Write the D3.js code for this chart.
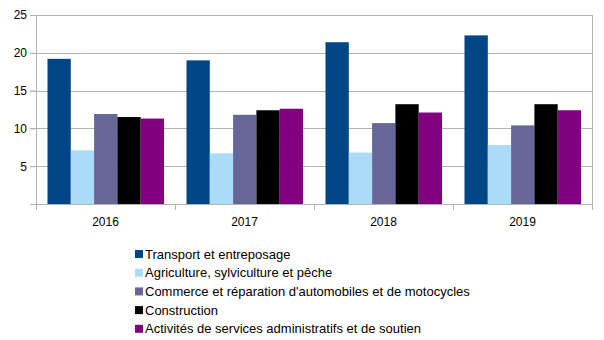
<!DOCTYPE html>
<html>
<head>
<meta charset="utf-8">
<script src="https://cdn.jsdelivr.net/npm/d3@7"></script>
<style>
  body { margin: 0; background: #fff; }
  svg { display: block; font-family: "Liberation Sans", Arial, sans-serif; }
</style>
</head>
<body>
<div id="chart"></div>
<script>
var years = ["2016", "2017", "2018", "2019"];
var sectors = [
    "Transport et entreposage",
    "Agriculture, sylviculture et pêche",
    "Commerce et réparation d'automobiles et de motocycles",
    "Construction",
    "Activités de services administratifs et de soutien"
];
var transport = [19.2, 19.0, 21.4, 22.3];
var agriculture = [7.1, 6.7, 6.8, 7.8];
var commerce = [11.9, 11.8, 10.7, 10.4];
var construction = [11.5, 12.4, 13.2, 13.2];
var services = [11.3, 12.6, 12.1, 12.4];
var yTicks = [5, 10, 15, 20, 25];
var colors = ["#004586", "#aadcf7", "#666699", "#000000", "#800080"];

var series = [transport, agriculture, commerce, construction, services];

var margin = {top: 15, right: 12, bottom: 136, left: 36};
var width = 604 - margin.left - margin.right;
var height = 340 - margin.top - margin.bottom;

var svg = d3.select("#chart")
    .append("svg")
    .attr("width", 604)
    .attr("height", 340);

var chart = svg.append("g")
    .attr("transform", "translate(" + margin.left + "," + margin.top + ")");

var x0 = d3.scaleBand()
    .domain(years)
    .range([0, width]);

var x1 = d3.scaleBand()
    .domain(d3.range(sectors.length))
    .range([11.5, x0.bandwidth() - 11]);

var y = d3.scaleLinear()
    .domain([0, 25])
    .range([height, 0]);

// horizontal grid
chart.selectAll(".grid")
    .data(yTicks)
    .enter().append("line")
    .attr("class", "grid")
    .attr("x1", -6)
    .attr("x2", width)
    .attr("y1", function(d) { return Math.round(y(d)) + 0.5; })
    .attr("y2", function(d) { return Math.round(y(d)) + 0.5; })
    .attr("stroke", "#b3b3b3")
    .attr("stroke-width", 1);

// bars
var groups = chart.selectAll(".year")
    .data(years)
    .enter().append("g")
    .attr("class", "year")
    .attr("transform", function(d) { return "translate(" + x0(d) + ",0)"; });

groups.selectAll("rect")
    .data(function(d, i) {
        return series.map(function(s, k) { return {k: k, v: s[i]}; });
    })
    .enter().append("rect")
    .attr("x", function(d) { return x1(d.k); })
    .attr("width", x1.bandwidth())
    .attr("y", function(d) { return y(d.v); })
    .attr("height", function(d) { return height - y(d.v); })
    .attr("fill", function(d) { return colors[d.k]; });

// y axis
var yAxis = chart.append("g")
    .call(d3.axisLeft(y).tickValues([0].concat(yTicks)).tickSize(6).tickFormat(function(d) { return d === 0 ? "" : d; }));
yAxis.select(".domain").attr("stroke", "#b3b3b3");
yAxis.selectAll(".tick line").attr("stroke", "#b3b3b3");
yAxis.selectAll("text")
    .attr("font-size", "12px")
    .attr("font-family", "Liberation Sans, Arial, sans-serif")
    .attr("fill", "#000")
    .attr("x", -9);

// x axis with category boundaries
chart.append("line")
    .attr("x1", -6).attr("x2", width)
    .attr("y1", height + 0.5).attr("y2", height + 0.5)
    .attr("stroke", "#b3b3b3");

var bounds = years.map(function(d) { return x0(d); }).concat([width]);
chart.selectAll(".xtick")
    .data(bounds)
    .enter().append("line")
    .attr("class", "xtick")
    .attr("x1", function(d) { return Math.round(d) + 0.5; })
    .attr("x2", function(d) { return Math.round(d) + 0.5; })
    .attr("y1", function(d, i) { return i === bounds.length - 1 ? 0 : height; })
    .attr("y2", height + 6)
    .attr("stroke", "#b3b3b3");

chart.selectAll(".xlabel")
    .data(years)
    .enter().append("text")
    .attr("class", "xlabel")
    .attr("x", function(d) { return x0(d) + x0.bandwidth() / 2; })
    .attr("y", height + 21.5)
    .attr("text-anchor", "middle")
    .attr("font-size", "12px")
    .text(function(d) { return d; });

// legend
var legend = svg.append("g")
    .attr("transform", "translate(135,254)");

var items = legend.selectAll(".item")
    .data(sectors)
    .enter().append("g")
    .attr("class", "item")
    .attr("transform", function(d, i) { return "translate(0," + (i * 18.7) + ")"; });

items.append("rect")
    .attr("x", 0)
    .attr("y", -4)
    .attr("width", 8)
    .attr("height", 8)
    .attr("fill", function(d, i) { return colors[i]; });

items.append("text")
    .attr("x", 10)
    .attr("y", 4.5)
    .attr("font-size", "13px")
    .text(function(d) { return d; });
</script>
</body>
</html>
